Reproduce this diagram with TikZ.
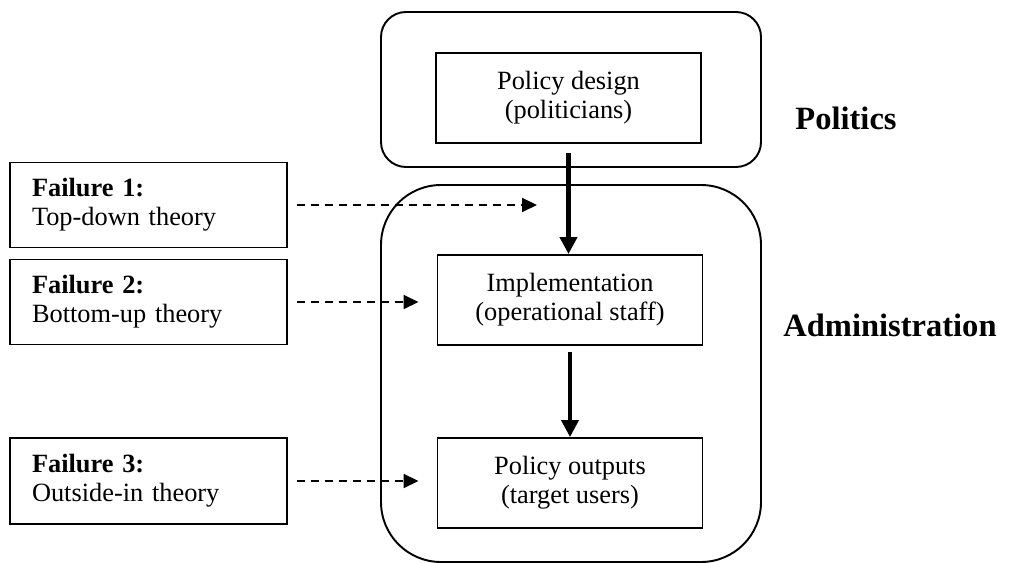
\documentclass[tikz,border=0pt]{standalone}
\usepackage{fontspec}
\setmainfont{Liberation Serif}
\usetikzlibrary{arrows.meta,positioning}

\begin{document}
\begin{tikzpicture}[every node/.style={font=\fontsize{15}{16.5}\selectfont},
  stage/.style={draw, line width=1.1pt, minimum width=5.3cm, minimum height=1.8cm, align=center},
  failbox/.style={draw, line width=1.1pt, minimum width=5.54cm, minimum height=1.7cm, text width=4.66cm, inner xsep=0.44cm, align=left},
  arena/.style={draw, line width=1.1pt, rounded corners=#1, minimum width=7.6cm},
  sidelabel/.style={font=\fontsize{18.5}{20}\selectfont\bfseries},
  flowarrow/.style={-{Triangle[length=0.34cm, width=0.34cm]}, line width=2.3pt},
  dasharrow/.style={-{Triangle[length=0.3cm, width=0.28cm]}, line width=1pt, dash pattern=on 0.16cm off 0.12cm}]
\useasboundingbox (0,0) rectangle (20.18,-11.26);
% the two arenas
\node[arena=0.5cm, minimum height=3.1cm] (pol) at (11.42,-1.79) {};
\node[arena=1.2cm, minimum height=7.54cm] (adm) at (11.42,-7.47) {};
% policy chain
\node[stage] (design) at (11.37,-1.96) {Policy design\\(politicians)};
\node[stage] (impl) at (11.4,-6.0) {Implementation\\(operational staff)};
\node[stage] (outputs) at (11.4,-9.66) {Policy outputs\\(target users)};
% failures
\node[failbox] (fail1) at (2.97,-4.1) {\textbf{Failure 1:}\\Top-down theory};
\node[failbox] (fail2) at (2.97,-6.04) {\textbf{Failure 2:}\\Bottom-up theory};
\node[failbox, minimum height=1.72cm] (fail3) at (2.97,-9.62) {\textbf{Failure 3:}\\Outside-in theory};
% labels
\node[sidelabel] (politics) at (16.92,-2.36) {Politics};
\node[sidelabel] (administration) at (17.8,-6.5) {Administration};
% arrows
\coordinate (hit1) at (10.74,-4.1);
\draw[flowarrow, shorten <=0.18cm] (design.south) -- (design.south |- impl.north);
\draw[flowarrow, shorten <=0.12cm] (impl.south) -- (impl.south |- outputs.north);
\draw[dasharrow, shorten <=0.18cm] (fail1) -- (hit1);
\draw[dasharrow, shorten <=0.18cm, shorten >=0.36cm] (fail2.east) -- (fail2.east -| impl.west);
\draw[dasharrow, shorten <=0.18cm, shorten >=0.36cm] (fail3.east) -- (fail3.east -| outputs.west);
\end{tikzpicture}
\end{document}
